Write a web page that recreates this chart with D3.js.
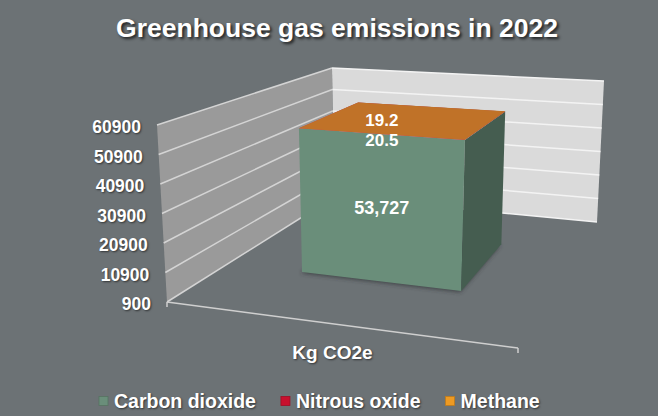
<!DOCTYPE html>
<html>
<head>
<meta charset="utf-8">
<script src="https://cdn.jsdelivr.net/npm/d3@7"></script>
<style>
  body { margin: 0; background: #ffffff; }
  svg text { font-family: "Liberation Sans", Arial, sans-serif; font-weight: bold; fill: #ffffff; }
  .shadowed { text-shadow: 1px 1px 2px rgba(0,0,0,0.55); }
  .title { text-shadow: 2px 2px 3px rgba(0,0,0,0.7); }
</style>
</head>
<body>
<svg id="chart" width="667" height="416"></svg>
<script>
//=================== DATA ====================================
var chartTitle = "Greenhouse gas emissions in 2022";
var categories = ["Kg CO2e"];
var seriesNames = ["Carbon dioxide", "Nitrous oxide", "Methane"];
var carbonDioxide = [53727];
var nitrousOxide = [20.5];
var methane = [19.2];
var dataLabels = ["53,727", "20.5", "19.2"];
var yTickValues = [900, 10900, 20900, 30900, 40900, 50900, 60900];
var yMin = 900;
var yMax = 60900;

//=================== STYLE / LAYOUT ====================================
var frontColours = ["#6a8e7a", "#c0152f", "#c07228"];
var sideColours = ["#455d50", "#7d0e1f", "#8a521c"];
var topColours = ["#7fa18d", "#d23a50", "#c07228"];
var legendColours = ["#6a8e7a", "#c8102e", "#ee9a22"];
var labelNudge = [0, 6.5, -14];

// screen positions of the 8 corners of the 3D plot box
// u: left -> right, v: bottom -> top, w: front -> back
var box = {
    fbl: [167, 302], fbr: [518, 348], ftl: [157, 125], ftr: [527, 151],
    bbl: [334, 197], bbr: [597, 222], btl: [332, 68], btr: [604, 81]
};
var depthRange = [0.37, 0.76]; // where the bar sits front/back

var svg = d3.select("#chart");

// the chart area is grey, a thin white strip is left on the right
svg.append("rect")
    .attr("x", 0).attr("y", 0)
    .attr("width", 658).attr("height", 416)
    .attr("fill", "#6c7275");

var defs = svg.append("defs");
defs.append("filter").attr("id", "blur")
    .attr("x", "-20%").attr("y", "-50%").attr("width", "140%").attr("height", "200%")
    .append("feGaussianBlur").attr("stdDeviation", 2);

//=================== PROJECTION ====================================
function lerp(a, b, t) {
    return [a[0] + (b[0] - a[0]) * t, a[1] + (b[1] - a[1]) * t];
}

function project(u, v, w) {
    var fb = lerp(box.fbl, box.fbr, u), ft = lerp(box.ftl, box.ftr, u);
    var bb = lerp(box.bbl, box.bbr, u), bt = lerp(box.btl, box.btr, u);
    return lerp(lerp(fb, ft, v), lerp(bb, bt, v), w);
}

var polyLine = d3.line();
function poly(pts) { return polyLine(pts) + "Z"; }

//=================== SCALES ====================================
var xScale = d3.scaleBand()
    .domain(categories)
    .range([-0.02, 0.98])
    .paddingInner(0)
    .paddingOuter(0.5);

var yScale = d3.scaleLinear()
    .domain([yMin, yMax])
    .range([0, 1])
    .clamp(true);

var rows = categories.map(function (c, i) {
    var r = { category: c };
    r[seriesNames[0]] = carbonDioxide[i];
    r[seriesNames[1]] = nitrousOxide[i];
    r[seriesNames[2]] = methane[i];
    return r;
});
var stacked = d3.stack().keys(seriesNames)(rows);

//=================== WALLS ====================================
var walls = svg.append("g").attr("class", "walls");

walls.append("path")
    .attr("d", poly([project(0, 0, 1), project(1, 0, 1), project(1, 1, 1), project(0, 1, 1)]))
    .attr("fill", "#dadada");

walls.append("path")
    .attr("d", poly([project(0, 0, 0), project(0, 0, 1), project(0, 1, 1), project(0, 1, 0)]))
    .attr("fill", "#9a9a9a");

walls.selectAll("line.left-grid")
    .data(yTickValues)
    .enter().append("line")
    .attr("class", "left-grid")
    .attr("x1", function (d) { return project(0, yScale(d), 0)[0]; })
    .attr("y1", function (d) { return project(0, yScale(d), 0)[1]; })
    .attr("x2", function (d) { return project(0, yScale(d), 1)[0]; })
    .attr("y2", function (d) { return project(0, yScale(d), 1)[1]; })
    .attr("stroke", "#d4d4d4")
    .attr("stroke-width", 1.5);

walls.selectAll("line.back-grid")
    .data(yTickValues)
    .enter().append("line")
    .attr("class", "back-grid")
    .attr("x1", function (d) { return project(0, yScale(d), 1)[0]; })
    .attr("y1", function (d) { return project(0, yScale(d), 1)[1]; })
    .attr("x2", function (d) { return project(1, yScale(d), 1)[0]; })
    .attr("y2", function (d) { return project(1, yScale(d), 1)[1]; })
    .attr("stroke", "#f3f3f3")
    .attr("stroke-width", 1.5);

// floor front edge with tick marks at each end
var fl = project(0, 0, 0), fr = project(1, 0, 0);
walls.append("line")
    .attr("x1", fl[0]).attr("y1", fl[1]).attr("x2", fr[0]).attr("y2", fr[1])
    .attr("stroke", "#cfcfcf").attr("stroke-width", 1.5);
walls.selectAll("line.tick")
    .data([fl, fr])
    .enter().append("line")
    .attr("class", "tick")
    .attr("x1", function (d) { return d[0]; }).attr("y1", function (d) { return d[1]; })
    .attr("x2", function (d) { return d[0]; }).attr("y2", function (d) { return d[1] + 5; })
    .attr("stroke", "#cfcfcf").attr("stroke-width", 1.5);

//=================== BARS ====================================
var bars = svg.append("g").attr("class", "bars");
var w0 = depthRange[0], w1 = depthRange[1];

categories.forEach(function (c, ci) {
    var u0 = xScale(c), u1 = u0 + xScale.bandwidth();

    // soft shadow under the bar
    bars.append("path")
        .attr("d", poly([project(u0, 0, w0), project(u1, 0, w0), project(u1, 0, w1), project(u0, 0, w1)]))
        .attr("transform", "translate(-1,1)")
        .attr("fill", "#2a2e30")
        .attr("opacity", 0.7)
        .attr("filter", "url(#blur)");

    stacked.forEach(function (s, si) {
        var v0 = yScale(s[ci][0]), v1 = yScale(s[ci][1]);
        bars.append("path")
            .attr("d", poly([project(u0, v0, w0), project(u1, v0, w0), project(u1, v1, w0), project(u0, v1, w0)]))
            .attr("fill", frontColours[si]);
        bars.append("path")
            .attr("d", poly([project(u1, v0, w0), project(u1, v0, w1), project(u1, v1, w1), project(u1, v1, w0)]))
            .attr("fill", sideColours[si]);
        bars.append("path")
            .attr("d", poly([project(u0, v1, w0), project(u1, v1, w0), project(u1, v1, w1), project(u0, v1, w1)]))
            .attr("fill", topColours[si]);
    });

    // data labels on the front face
    stacked.forEach(function (s, si) {
        var vm = yScale((Math.max(s[ci][0], yMin) + s[ci][1]) / 2);
        var p = project((u0 + u1) / 2, vm, w0);
        bars.append("text")
            .attr("x", p[0])
            .attr("y", p[1] + labelNudge[si])
            .attr("text-anchor", "middle")
            .attr("dominant-baseline", "central")
            .style("font-size", si === 0 ? "18px" : "17px")
            .text(dataLabels[si]);
    });
});

//=================== AXIS LABELS ====================================
svg.append("g").selectAll("text")
    .data(yTickValues)
    .enter().append("text")
    .attr("class", "shadowed")
    .attr("x", function (d) { return project(0, yScale(d), 0)[0] - 16; })
    .attr("y", function (d) { return project(0, yScale(d), 0)[1] + 2; })
    .attr("text-anchor", "end")
    .attr("dominant-baseline", "central")
    .style("font-size", "17.5px")
    .text(function (d) { return d; });

svg.append("g").selectAll("text")
    .data(categories)
    .enter().append("text")
    .attr("class", "shadowed")
    .attr("x", function (d) { return project(xScale(d) + xScale.bandwidth() / 2, 0, 0)[0] - 3; })
    .attr("y", function (d) { return project(xScale(d) + xScale.bandwidth() / 2, 0, 0)[1] + 28; })
    .attr("text-anchor", "middle")
    .attr("dominant-baseline", "central")
    .style("font-size", "19px")
    .text(function (d) { return d; });

//=================== LEGEND ====================================
var legend = svg.append("g").attr("class", "legend");
var legendX = 99, legendY = 401;
seriesNames.forEach(function (name, i) {
    legend.append("rect")
        .attr("x", legendX).attr("y", legendY - 4.5)
        .attr("width", 9).attr("height", 9)
        .attr("fill", legendColours[i])
        .attr("stroke", d3.color(legendColours[i]).darker(0.6))
        .attr("stroke-width", 0.8);
    var t = legend.append("text")
        .attr("class", "shadowed")
        .attr("x", legendX + 15)
        .attr("y", legendY)
        .attr("dominant-baseline", "central")
        .style("font-size", "19.5px")
        .text(name);
    legendX += 15 + t.node().getComputedTextLength() + 25;
});

//=================== TITLE ====================================
svg.append("text")
    .attr("class", "title")
    .attr("x", 337)
    .attr("y", 37)
    .attr("text-anchor", "middle")
    .style("font-size", "26.5px")
    .text(chartTitle);
</script>
</body>
</html>
